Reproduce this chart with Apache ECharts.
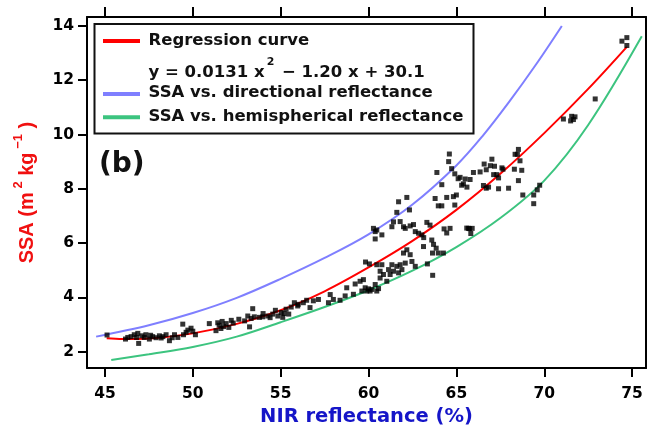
<!DOCTYPE html>
<html>
<head>
<meta charset="utf-8">
<script src="https://cdn.jsdelivr.net/npm/echarts@6/dist/echarts.min.js"></script>
<style>
html,body{margin:0;padding:0;background:#fff;}
#chart{width:651px;height:432px;}
</style>
</head>
<body>
<div id="chart"></div>
<script>
const xTicks = [45, 50, 55, 60, 65, 70, 75];
const yTicks = [2, 4, 6, 8, 10, 12, 14];

const legendNames = ['Regression curve', 'SSA vs. directional reflectance', 'SSA vs. hemispherical reflectance'];
const equationParts = ['y = 0.0131 x', '2', ' \u2212 1.20 x + 30.1'];

const regressionCurve = [
  [45.1, 2.49], [46.0, 2.46], [47.5, 2.48], [50.0, 2.67], [52.5, 3.02], [55.0, 3.52],
  [57.5, 4.22], [60.0, 5.10], [62.5, 6.08], [65.0, 7.22], [67.5, 8.55], [70.0, 10.05],
  [72.5, 11.68], [74.7, 13.23]
];
const directionalCurve = [
  [44.5, 2.55], [47.5, 2.97], [50.0, 3.42], [52.5, 3.98], [55.0, 4.68], [57.5, 5.45],
  [60.0, 6.32], [62.5, 7.42], [65.0, 8.86], [66.5, 9.95], [68.0, 11.2], [69.5, 12.55],
  [71.0, 14.0]
];
const hemisphericalCurve = [
  [45.36, 1.69], [47.5, 1.90], [50.0, 2.17], [52.5, 2.55], [55.0, 3.08], [57.5, 3.64],
  [60.0, 4.26], [62.5, 4.98], [65.0, 5.85], [67.5, 6.92], [70.0, 8.30], [72.5, 10.35],
  [75.55, 13.62]
];

const ssaPoints = [
  [45.12,2.61],[46.17,2.46],[46.3,2.52],[46.49,2.55],[46.67,2.62],[46.8,2.52],[46.87,2.67],[46.92,2.30],
  [47.1,2.58],[47.24,2.52],[47.33,2.62],[47.53,2.46],[47.6,2.60],[47.72,2.55],[47.91,2.51],[48.1,2.58],
  [48.2,2.50],[48.3,2.55],[48.48,2.62],[48.67,2.40],[48.83,2.51],[48.96,2.62],[49.15,2.52],[49.43,3.01],
  [49.47,2.62],[49.62,2.71],[49.72,2.79],[49.9,2.86],[50.0,2.75],[50.15,2.62],[50.94,3.03],[51.32,2.77],
  [51.42,3.06],[51.5,2.97],[51.6,2.85],[51.67,3.11],[51.75,2.92],[51.9,3.03],[52.05,2.89],[52.19,3.15],
  [52.3,3.05],[52.62,3.19],[52.95,3.13],[53.13,3.31],[53.23,2.91],[53.32,3.22],[53.41,3.58],[53.5,3.28],
  [53.79,3.26],[53.98,3.28],[54.0,3.40],[54.27,3.31],[54.4,3.25],[54.55,3.38],[54.7,3.52],[54.84,3.31],
  [55.03,3.44],[55.12,3.26],[55.2,3.40],[55.31,3.56],[55.46,3.38],[55.6,3.64],[55.78,3.80],[55.97,3.68],
  [56.0,3.74],[56.29,3.80],[56.48,3.89],[56.67,3.62],[56.86,3.87],[57.15,3.92],[57.72,3.80],[57.82,4.10],
  [58.0,3.92],[58.38,3.89],[58.67,4.05],[58.76,4.35],[59.14,4.11],[59.24,4.49],[59.52,4.59],[59.62,4.23],
  [59.71,4.65],[59.81,4.35],[59.9,4.23],[60.0,4.31],[60.09,4.23],[60.19,4.29],[60.38,4.47],[60.47,4.23],
  [60.57,4.32],[60.66,4.71],[60.66,4.96],[60.76,5.20],[60.85,4.84],[61.04,4.59],[61.14,5.02],[61.23,4.84],
  [61.33,5.20],[61.42,4.96],[61.61,5.14],[61.71,4.90],[61.8,5.20],[61.9,5.02],[61.99,5.63],[62.09,5.26],
  [62.18,5.75],[62.37,5.57],[62.47,5.32],[62.66,5.14],[59.83,5.30],[60.05,5.23],[60.47,5.20],
  [60.28,6.54],[60.38,6.42],[60.47,6.48],[60.38,6.15],[60.76,6.30],[61.33,6.60],[61.42,6.78],[61.8,6.79],
  [61.61,7.13],[61.71,7.52],[62.18,7.68],[62.33,7.22],[61.99,6.60],[62.09,6.54],[62.37,6.63],[62.56,6.68],
  [62.66,6.42],[62.85,6.36],[63.04,6.30],[63.14,6.20],[63.13,5.87],[63.32,6.76],[63.5,6.66],[63.35,5.23],
  [63.6,6.11],[63.7,5.95],[63.85,5.81],[63.64,5.63],[63.97,5.63],[63.65,4.81],[64.26,5.63],[63.79,7.64],
  [63.89,8.60],[64.17,8.15],[63.97,7.37],[64.17,7.37],[64.45,7.68],[64.6,9.28],[64.56,9.00],[64.73,8.74],
  [64.91,8.55],[64.83,7.71],[65.0,7.77],[64.91,7.40],[64.3,6.52],[64.45,6.37],[64.64,6.54],[65.1,8.37],
  [65.3,8.13],[65.69,6.54],[65.9,6.54],
  [65.21,8.42],[65.5,8.36],[65.78,8.34],[65.4,8.18],[65.6,8.06],[65.97,8.60],[66.35,8.62],[66.58,8.91],
  [66.7,8.70],[66.93,8.85],[67.02,9.09],[67.17,8.83],[67.12,8.52],[67.3,8.52],[67.4,8.40],[67.59,8.77],
  [67.65,8.72],[66.54,8.12],[66.7,8.02],[66.83,8.06],[67.4,8.00],[67.97,8.02],[68.34,9.27],[68.53,9.45],
  [68.47,9.27],[68.62,9.03],[68.3,8.72],[68.72,8.68],[68.53,8.30],[68.78,7.77],[69.4,7.77],[69.4,7.45],
  [69.6,7.96],[69.74,8.13],[65.59,6.55],[65.75,6.53],[65.82,6.35],
  [71.09,10.57],[71.56,10.67],[71.75,10.65],[71.66,10.55],[71.5,10.50],[72.9,11.31],
  [74.42,13.44],[74.7,13.57],[74.7,13.28]
];

const FONT = 'DejaVu Sans';
const chart = echarts.init(document.getElementById('chart'), null, {renderer: 'canvas'});

const lineSeries = (name, data, color) => ({
  name: name, type: 'line', data: data, smooth: 0.35, showSymbol: false, symbol: 'none',
  lineStyle: {color: color, width: 2}, z: 2, silent: true, animation: false
});

const legendFont = {fontFamily: FONT, fontWeight: 'bold', fontSize: 16.5, fill: '#111'};

chart.setOption({
  animation: false,
  backgroundColor: '#fff',
  grid: {left: 87, right: 5, top: 17, bottom: 61, containLabel: false},
  xAxis: [{
    type: 'value', position: 'bottom', min: 43.98, max: 75.79,
    name: 'NIR reflectance (%)', nameLocation: 'middle', nameGap: 38,
    nameTextStyle: {color: '#1515c8', fontFamily: FONT, fontWeight: 'bold', fontSize: 19.5},
    axisLine: {show: true, onZero: false, lineStyle: {color: '#000', width: 2}},
    axisTick: {show: true, inside: false, length: 9, customValues: xTicks, lineStyle: {color: '#000', width: 2}},
    axisLabel: {show: true, customValues: xTicks, margin: 18, color: '#000', fontFamily: FONT, fontWeight: 'bold', fontSize: 15.5},
    splitLine: {show: false}
  }, {
    type: 'value', position: 'top', min: 43.98, max: 75.79,
    axisLine: {show: true, onZero: false, lineStyle: {color: '#000', width: 2}},
    axisTick: {show: true, inside: false, length: 10, customValues: xTicks, lineStyle: {color: '#000', width: 2}},
    axisLabel: {show: false},
    splitLine: {show: false}
  }],
  yAxis: [{
    type: 'value', position: 'left', min: 1.39, max: 14.33,
    name: '{t|SSA (m}{s| 2}{t| kg}{s| \u22121}{t| )}', nameLocation: 'middle', nameGap: 45, nameRotate: 90,
    nameTextStyle: {
      color: '#f01010',
      rich: {
        t: {fontFamily: 'Liberation Sans', fontWeight: 'bold', fontSize: 20, color: '#f01010', lineHeight: 30},
        s: {fontFamily: 'Liberation Sans', fontWeight: 'bold', fontSize: 13, color: '#f01010', lineHeight: 14, verticalAlign: 'top'}
      }
    },
    axisLine: {show: true, onZero: false, lineStyle: {color: '#000', width: 2}},
    axisTick: {show: true, inside: false, length: 9, customValues: yTicks, lineStyle: {color: '#000', width: 2}},
    axisLabel: {show: true, customValues: yTicks, margin: 13, color: '#000', fontFamily: FONT, fontWeight: 'bold', fontSize: 15.5},
    splitLine: {show: false}
  }, {
    type: 'value', position: 'right', min: 1.39, max: 14.33,
    axisLine: {show: true, onZero: false, lineStyle: {color: '#000', width: 2}},
    axisTick: {show: false}, axisLabel: {show: false}, splitLine: {show: false}
  }],
  series: [
    lineSeries(legendNames[1], directionalCurve, '#7f7fff'),
    lineSeries(legendNames[2], hemisphericalCurve, '#3cc47f'),
    lineSeries(legendNames[0], regressionCurve, '#ff0000'),
    {
      name: 'data', type: 'scatter', data: ssaPoints, symbol: 'rect', symbolSize: 5,
      itemStyle: {color: '#000'}, z: 3, silent: true, animation: false
    }
  ],
  graphic: [
    {type: 'rect', shape: {x: 94.5, y: 24, width: 379, height: 109.5}, style: {fill: '#fff', stroke: '#111', lineWidth: 2}, z: 10},
    {type: 'line', shape: {x1: 103, y1: 41, x2: 140, y2: 41}, style: {stroke: '#ff0000', lineWidth: 4}, z: 11},
    {type: 'line', shape: {x1: 103, y1: 94, x2: 140, y2: 94}, style: {stroke: '#7f7fff', lineWidth: 4}, z: 11},
    {type: 'line', shape: {x1: 103, y1: 117.3, x2: 140, y2: 117.3}, style: {stroke: '#3cc47f', lineWidth: 4}, z: 11},
    {type: 'text', x: 148.5, y: 41, z: 11, style: Object.assign({text: legendNames[0], verticalAlign: 'middle'}, legendFont)},
    {type: 'text', x: 148.5, y: 72.5, z: 11, style: {
      text: '{n|' + equationParts[0] + '}{s|' + equationParts[1] + '}{n|' + equationParts[2] + '}',
      verticalAlign: 'middle',
      rich: {
        n: {fontFamily: FONT, fontWeight: 'bold', fontSize: 16.5, fill: '#111', lineHeight: 32},
        s: {fontFamily: FONT, fontWeight: 'bold', fontSize: 11, fill: '#111', lineHeight: 13, verticalAlign: 'top', padding: [0, 2, 0, 2]}
      }
    }},
    {type: 'text', x: 148.5, y: 93, z: 11, style: Object.assign({text: legendNames[1], verticalAlign: 'middle'}, legendFont)},
    {type: 'text', x: 148.5, y: 116.3, z: 11, style: Object.assign({text: legendNames[2], verticalAlign: 'middle'}, legendFont)},
    {type: 'text', x: 99, y: 165, z: 11, style: {text: '(b)', verticalAlign: 'middle', fontFamily: FONT, fontWeight: 'bold', fontSize: 28, fill: '#111'}}
  ]
});
</script>
</body>
</html>
